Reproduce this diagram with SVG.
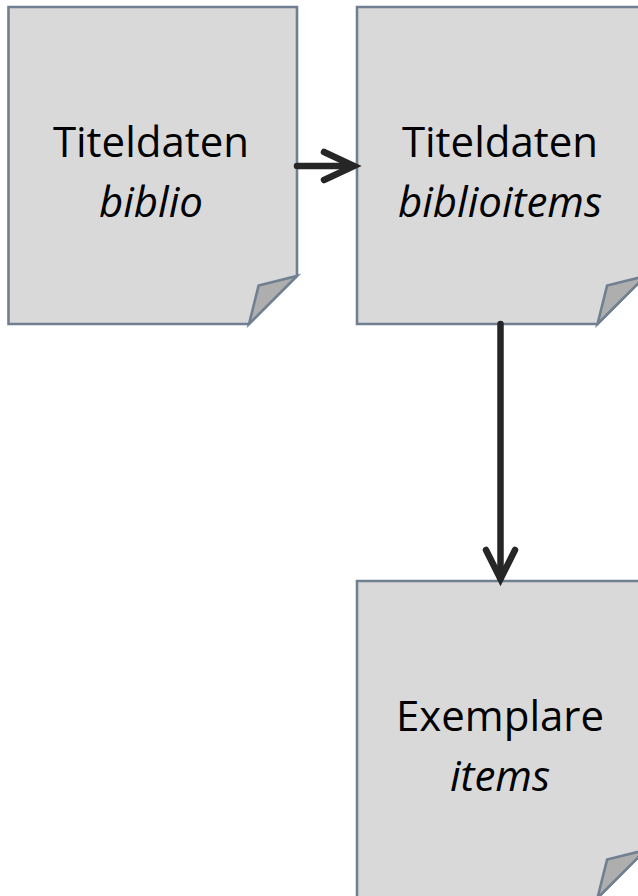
<svg xmlns="http://www.w3.org/2000/svg" width="638" height="896" viewBox="0 0 638 896">
<style>
.note{fill:#D9D9D9;stroke:#708090;stroke-width:2.6;stroke-linejoin:miter}
.flap{fill:#AEAEAE;stroke:#708090;stroke-width:2.6;stroke-linejoin:miter}
.t{font-family:"Open Sans","Noto Sans",sans-serif;font-size:42px;fill:#000;text-anchor:middle}
.i{font-style:italic}
.c{fill:none;stroke:#262626;stroke-width:6.5;stroke-linecap:round;stroke-linejoin:miter}
</style>
<g id="node-biblio">
<path class="note" d="M8.5,7 H297 V276 L249,324 H8.5 Z"/>
<path class="flap" d="M249,324 L258.6,285.6 L297,276 Z"/>
<text class="t" x="151" y="157">Titeldaten</text>
<text class="t i" x="151" y="217">biblio</text>
</g>
<g id="node-biblioitems">
<path class="note" d="M357,7 H645.5 V276 L597.5,324 H357 Z"/>
<path class="flap" d="M597.5,324 L607.1,285.6 L645.5,276 Z"/>
<text class="t" x="500" y="157">Titeldaten</text>
<text class="t i" x="500" y="217">biblioitems</text>
</g>
<g id="node-items">
<path class="note" d="M357,581 H645.5 V850 L597.5,898 H357 Z"/>
<path class="flap" d="M597.5,898 L607.1,859.6 L645.5,850 Z"/>
<text class="t" x="500" y="731">Exemplare</text>
<text class="t i" x="500" y="791">items</text>
</g>
<g id="connectors">
<path class="c" d="M297,166 H353"/>
<path class="c" d="M324,152 L354,166 L324,180"/>
<path class="c" d="M500.5,324 V578"/>
<path class="c" d="M486,550 L500.5,579 L515,550"/>
</g>
</svg>
